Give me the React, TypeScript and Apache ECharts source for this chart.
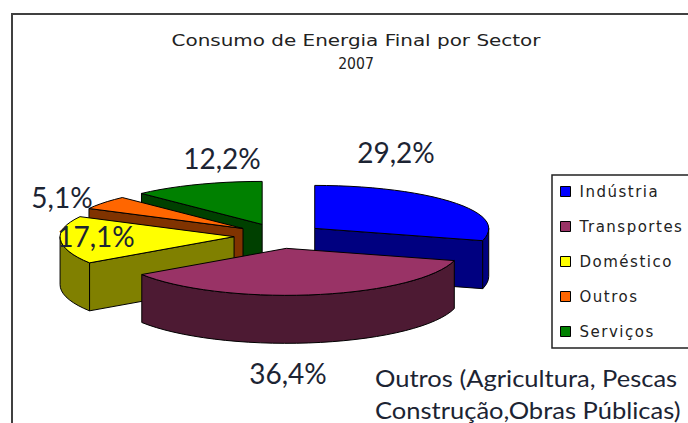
import React, { useEffect, useRef } from "react";
import * as echarts from "echarts";

const categories = ["Indústria", "Transportes", "Doméstico", "Outros", "Serviços"];
const shares = [29.2, 36.4, 17.1, 5.1, 12.2];
const topColors = ["#0000FF", "#993366", "#FFFF00", "#FF6600", "#008000"];
const sideColors = ["#000080", "#4D1A33", "#808000", "#803300", "#004000"];
const drawOrder = [4, 3, 2, 0, 1];
const titleLines = ["Consumo de Energia Final por Sector", "2007"];
const noteLines = ["Outros (Agricultura, Pescas", "Construção,Obras Públicas)"];

const CX = 279, CY = 236, RX = 174, RY_BACK = 43, RY_FRONT = 47, DEPTH = 48, EXPLODE_X = 45, EXPLODE_Y = 12.5;
const labelAnchors = [
  { x: 396, y: 152 },
  { x: 288, y: 373 },
  { x: 96, y: 236 },
  { x: 62, y: 197 },
  { x: 222, y: 158 },
];

const rad = (d: number) => (d * Math.PI) / 180;

function App() {
  const ref = useRef<HTMLDivElement>(null);
  useEffect(() => {
    document.body.style.margin = "0";
    const chart = echarts.init(ref.current!, null, { renderer: "svg" });
    const total = shares.reduce((a, b) => a + b, 0);
    let acc = 0;
    const starts = shares.map((v) => {
      const s = acc;
      acc += v;
      return s;
    });

    const series = categories.map((name, i) => ({
      type: "custom",
      name,
      coordinateSystem: "none",
      silent: true,
      z: 2 + drawOrder.indexOf(i),
      itemStyle: { color: topColors[i], borderColor: "#000", borderWidth: 1 },
      data: [[starts[i], shares[i]]],
      renderItem: (_p: any, api: any) => {
        const a0 = (api.value(0) / total) * 360;
        const a1 = a0 + (api.value(1) / total) * 360;
        const mid = rad((a0 + a1) / 2);
        const ax = CX + EXPLODE_X * Math.sin(mid);
        const ay = CY - EXPLODE_Y * Math.cos(mid);
        const pt = (deg: number, drop = 0): number[] => {
          const c = Math.cos(rad(deg));
          return [ax + RX * Math.sin(rad(deg)), ay - (c > 0 ? RY_BACK : RY_FRONT) * c + drop];
        };
        const arc = (from: number, to: number, drop = 0) => {
          const out: number[][] = [];
          const n = Math.max(1, Math.ceil((to - from) / 4));
          for (let k = 0; k <= n; k++) out.push(pt(from + ((to - from) * k) / n, drop));
          return out;
        };
        const line = { stroke: "#000", lineWidth: 1, lineJoin: "round" };
        const poly = (points: number[][], fill: string) => ({
          type: "polygon",
          shape: { points },
          style: { fill, ...line },
        });
        const children: any[] = [];
        const cutFace = (deg: number) => {
          const p = pt(deg);
          return poly([[ax, ay], p, [p[0], p[1] + DEPTH], [ax, ay + DEPTH]], sideColors[i]);
        };
        if (Math.sin(rad(a0)) < -1e-6) children.push(cutFace(a0));
        if (Math.sin(rad(a1)) > 1e-6) children.push(cutFace(a1));
        const r0 = Math.max(a0, 90), r1 = Math.min(a1, 270);
        if (r1 > r0) {
          children.push(poly([...arc(r0, r1), ...arc(r0, r1, DEPTH).reverse()], sideColors[i]));
        }
        children.push(poly([[ax, ay], ...arc(a0, a1)], topColors[i]));
        const anchor = labelAnchors[i];
        children.push({
          type: "text",
          x: anchor.x,
          y: anchor.y,
          style: {
            text: api.value(1).toFixed(1).replace(".", ",") + "%",
            fill: "#1c2433",
            font: "28px Lato",
            align: "center",
            verticalAlign: "middle",
          },
        });
        return { type: "group", children };
      },
    }));

    chart.setOption({
      animation: false,
      backgroundColor: "#fff",
      legend: {
        orient: "vertical",
        left: 552,
        top: 175,
        selectedMode: false,
        data: categories.map((name, i) => ({
          name,
          icon: "rect",
          itemStyle: { color: topColors[i], borderColor: "#000", borderWidth: 1 },
        })),
        itemWidth: 10,
        itemHeight: 10,
        itemGap: 20,
        padding: [9, 40, 9, 8],
        borderColor: "#222",
        borderWidth: 1.5,
        textStyle: { fontFamily: "DejaVu Sans", fontSize: 15, color: "#222", padding: [0, 0, 0, 4] },
      },
      graphic: [
        {
          type: "polyline",
          shape: { points: [[12, 423], [12, 14], [688, 14]] },
          style: { fill: "none", stroke: "#404040", lineWidth: 2 },
        },
        ...titleLines.map((text, i) => ({
          type: "text",
          x: 356,
          y: 40 + i * 24,
          scaleX: i === 0 ? 1.21 : 0.85,
          style: { text, fill: "#222", font: "16.5px 'DejaVu Sans'", align: "center", verticalAlign: "middle" },
        })),
        ...noteLines.map((text, i) => ({
          type: "text",
          x: 375,
          y: 378 + i * 32,
          scaleX: 1.11,
          style: { text, fill: "#1c2433", font: "23px Lato", align: "left", verticalAlign: "middle" },
        })),
      ],
      series,
    });
    // The reference's legend text is widely spaced; ECharts has no letter-spacing option.
    ref.current!.querySelectorAll("text").forEach((t) => {
      if (categories.includes(t.textContent || "")) t.style.letterSpacing = "1.5px";
    });
    return () => chart.dispose();
  }, []);
  return <div ref={ref} style={{ width: 688, height: 423 }} />;
}

export default App;
